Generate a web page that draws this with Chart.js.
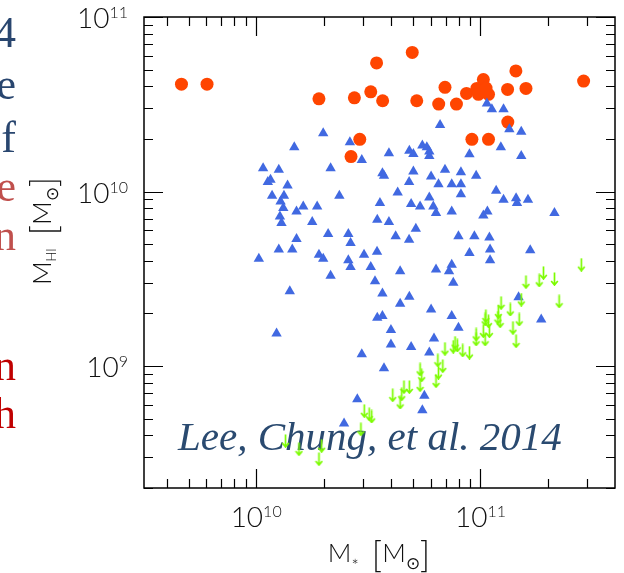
<!DOCTYPE html>
<html>
<head>
<meta charset="utf-8">
<script src="https://cdn.jsdelivr.net/npm/chart.js@4.4.1/dist/chart.umd.min.js"></script>
<style>
  html, body { margin: 0; padding: 0; background: #fff; }
  #box { width: 624px; height: 573px; }
</style>
</head>
<body>
<div id="box"><canvas id="myChart" width="624" height="573"></canvas></div>
<script>
// values are log10(M / Msun)

// gas rich galaxies (red circles)
const gasLogMstar = [9.667, 9.781, 10.280, 10.438, 10.511, 10.537, 10.564, 10.462, 10.423, 10.696,
  10.716, 10.842, 10.814, 10.893, 10.938, 10.984, 11.013, 10.991, 11.036, 11.025,
  11.121, 11.158, 11.203, 11.460, 11.122, 10.962, 11.036];
const gasLogMhi = [10.615, 10.615, 10.531, 10.537, 10.571, 10.737, 10.520, 10.299, 10.200, 10.797,
  10.520, 10.597, 10.501, 10.501, 10.562, 10.591, 10.642, 10.557, 10.557, 10.593,
  10.585, 10.691, 10.591, 10.633, 10.398, 10.299, 10.299];

// HI detections (blue triangles)
const detLogMstar = [10.299, 10.170, 10.418, 10.471, 10.031, 10.101, 10.332, 10.052, 10.064, 10.140,
  10.071, 10.124, 10.371, 10.109, 10.121, 10.210, 10.272, 10.180, 10.106, 10.113,
  10.250, 10.321, 10.411, 10.421, 10.180, 10.101, 10.161, 10.012, 10.280, 10.299,
  10.411, 10.421, 10.481, 10.511, 10.539, 10.332, 10.530, 10.150, 10.540, 10.091,
  10.471, 10.451, 10.392, 11.029, 11.051, 11.103, 10.820, 11.129, 11.182, 11.091,
  11.182, 10.741, 10.761, 10.772, 10.772, 10.683, 10.701, 10.592, 10.951, 10.563,
  10.570, 10.701, 10.842, 10.913, 10.981, 10.682, 10.780, 10.813, 10.872, 10.913,
  10.631, 10.913, 11.070, 10.772, 11.103, 11.159, 11.163, 11.212, 10.552, 10.691,
  10.731, 10.790, 10.802, 10.872, 11.031, 11.013, 11.330, 10.540, 10.592, 10.712,
  10.622, 10.682, 10.902, 10.973, 11.040, 10.951, 11.043, 11.043, 11.222, 10.642,
  10.802, 10.860, 10.872, 10.879, 10.563, 10.683, 10.642, 10.780, 11.170, 10.563,
  10.872, 11.271, 10.601, 10.902, 10.793, 10.601, 10.691, 10.772, 10.570, 10.750,
  10.741];
const detLogMhi = [10.334, 10.254, 10.282, 10.181, 10.134, 10.124, 10.134, 10.055, 10.067, 10.034,
  9.975, 9.975, 9.975, 9.943, 9.905, 9.914, 9.914, 9.886, 9.857, 9.819,
  9.825, 9.757, 9.757, 9.705, 9.728, 9.667, 9.667, 9.615, 9.638, 9.615,
  9.606, 9.568, 9.638, 9.568, 9.655, 9.518, 9.486, 9.429, 9.277, 9.187,
  9.067, 8.810, 8.671, 10.505, 10.471, 10.471, 10.381, 10.357, 10.343, 10.254,
  10.204, 10.263, 10.254, 10.229, 10.204, 10.234, 10.215, 10.219, 10.214, 10.105,
  10.091, 10.114, 10.124, 10.111, 10.091, 10.054, 10.086, 10.042, 10.042, 10.042,
  9.994, 9.985, 10.004, 9.966, 9.953, 9.962, 9.934, 9.953, 9.934, 9.928,
  9.914, 9.914, 9.877, 9.886, 9.886, 9.863, 9.877, 9.838, 9.825, 9.787,
  9.743, 9.724, 9.743, 9.743, 9.737, 9.648, 9.667, 9.606, 9.663, 9.543,
  9.553, 9.543, 9.581, 9.477, 9.415, 9.397, 9.357, 9.324, 9.394, 9.286,
  9.286, 9.267, 9.206, 9.219, 9.157, 9.124, 9.109, 9.077, 8.987, 8.829,
  8.747];

// HI upper limits (green arrows)
const limLogMstar = [11.450, 11.203, 11.262, 11.281, 11.330, 11.351, 11.182, 11.092, 11.133, 11.080,
  11.024, 11.021, 11.036, 11.078, 11.088, 11.173, 11.145, 10.981, 10.981, 11.013,
  11.021, 11.040, 11.159, 10.887, 10.897, 10.879, 10.842, 10.921, 10.951, 10.810,
  10.832, 10.813, 10.802, 10.731, 10.738, 10.731, 10.659, 10.683, 10.649, 10.609,
  10.642, 10.515, 10.482, 10.504, 10.467, 10.131, 10.191, 10.292, 10.280];
const limLogMhi = [9.581, 9.482, 9.491, 9.534, 9.499, 9.371, 9.381, 9.362, 9.324, 9.309,
  9.286, 9.267, 9.257, 9.277, 9.257, 9.267, 9.219, 9.181, 9.153, 9.200,
  9.153, 9.200, 9.143, 9.134, 9.118, 9.111, 9.099, 9.090, 9.077, 9.033,
  9.000, 8.962, 8.914, 8.981, 8.947, 8.891, 8.880, 8.880, 8.838, 8.833,
  8.791, 8.711, 8.743, 8.724, 8.638, 8.571, 8.524, 8.543, 8.467];

// axes
const xMin = 3.162e9, xMax = 3.981e11;
const yMin = 2e8, yMax = 1e11;
const xLabelExp = [10, 11];
const yLabelExp = [9, 10, 11];
const xTitle = [["M", 26, 0], ["*", 17, 10], ["  ", 24, 0], ["[", 35, 5], ["M", 26, 0], ["\u2299", 17, 7], ["]", 35, 5]];
const yTitle = [["M", 26, 0], ["HI", 13, 5], ["  ", 24, 0], ["[", 35, 5], ["M", 26, 0], ["\u2299", 17, 7], ["]", 35, 5]];
const credit = "Lee, Chung, et al. 2014";

// cut off slide text on the left
const sideLetters = [
  ["4", 47, "#29466f"], ["e", 99, "#29466f"], ["f", 152, "#29466f"],
  ["e", 201, "#c0504d"], ["n", 250, "#c0504d"],
  ["n", 380, "#c00000"], ["h", 428, "#c00000"]
];

function toPoints(lx, ly) {
  return lx.map((v, i) => ({ x: Math.pow(10, v), y: Math.pow(10, ly[i]) }));
}

function decadeTicks(min, max) {
  let out = [];
  for (let d = Math.floor(Math.log10(min)); d <= Math.ceil(Math.log10(max)); d++) {
    for (let m = 1; m <= 9; m++) {
      let v = m * Math.pow(10, d);
      if (v >= min * 0.999 && v <= max * 1.001) out.push({ v: v, major: m === 1 });
    }
  }
  return out;
}

function arrowImage() {
  const c = document.createElement("canvas");
  c.width = 9; c.height = 14;
  const g = c.getContext("2d");
  g.strokeStyle = "#7cfc00";
  g.lineWidth = 1.7;
  g.beginPath();
  g.moveTo(4.5, 0.5); g.lineTo(4.5, 13);
  g.moveTo(1.2, 9); g.lineTo(4.5, 13); g.lineTo(7.8, 9);
  g.stroke();
  return c;
}

// text made of pieces with their own size and vertical offset
function drawRuns(ctx, runs, x, y, align) {
  let w = 0;
  runs.forEach(r => { ctx.font = "300 " + r[1] + "px Lato"; w += ctx.measureText(r[0]).width; });
  let cx = align === "center" ? x - w / 2 : (align === "right" ? x - w : x);
  ctx.textAlign = "left";
  ctx.textBaseline = "alphabetic";
  runs.forEach(r => {
    ctx.font = "300 " + r[1] + "px Lato";
    ctx.fillText(r[0], cx, y + r[2]);
    cx += ctx.measureText(r[0]).width;
  });
}

const axesPlugin = {
  id: "axesPlugin",
  beforeDatasetsDraw(chart) {
    const ctx = chart.ctx;
    const a = chart.chartArea;
    const x = chart.scales.x, y = chart.scales.y;
    ctx.save();

    // slide text
    ctx.font = "44px 'Liberation Serif'";
    ctx.textAlign = "right";
    sideLetters.forEach(s => { ctx.fillStyle = s[2]; ctx.fillText(s[0], 16, s[1]); });

    ctx.font = "italic 41px 'Liberation Serif'";
    ctx.textAlign = "left";
    ctx.fillStyle = "#2a4a70";
    ctx.fillText(credit, 178, 450);

    // frame and inward ticks
    ctx.strokeStyle = "#000";
    ctx.lineWidth = 1.5;
    ctx.strokeRect(a.left, a.top, a.right - a.left, a.bottom - a.top);
    ctx.lineWidth = 1.2;
    ctx.beginPath();
    decadeTicks(xMin, xMax).forEach(t => {
      const px = Math.round(x.getPixelForValue(t.v)) + 0.5;
      const len = t.major ? 19 : 9;
      ctx.moveTo(px, a.bottom); ctx.lineTo(px, a.bottom - len);
      ctx.moveTo(px, a.top); ctx.lineTo(px, a.top + len);
    });
    decadeTicks(yMin, yMax).forEach(t => {
      const py = Math.round(y.getPixelForValue(t.v)) + 0.5;
      const len = t.major ? 19 : 9;
      ctx.moveTo(a.left, py); ctx.lineTo(a.left + len, py);
      ctx.moveTo(a.right, py); ctx.lineTo(a.right - len, py);
    });
    ctx.stroke();

    // tick labels 10^n
    ctx.fillStyle = "#111";
    xLabelExp.forEach(e => {
      drawRuns(ctx, [["10", 28, 0], [String(e), 16, -10]], x.getPixelForValue(Math.pow(10, e)), 527, "center");
    });
    yLabelExp.forEach(e => {
      drawRuns(ctx, [["10", 28, 0], [String(e), 16, -10]], 128, y.getPixelForValue(Math.pow(10, e)) + 11, "right");
    });

    // axis titles
    drawRuns(ctx, xTitle, 379, 562, "center");
    ctx.translate(51, 231);
    ctx.rotate(-Math.PI / 2);
    drawRuns(ctx, yTitle, 0, 0, "center");
    ctx.restore();
  }
};

const data = {
  datasets: [
    {
      label: "upper limits",
      data: toPoints(limLogMstar, limLogMhi),
      pointStyle: arrowImage(),
      pointRadius: 6
    },
    {
      label: "detections",
      data: toPoints(detLogMstar, detLogMhi),
      pointStyle: "triangle",
      pointRadius: 6,
      backgroundColor: "#4169e1",
      borderWidth: 0
    },
    {
      label: "gas rich",
      data: toPoints(gasLogMstar, gasLogMhi),
      pointStyle: "circle",
      pointRadius: 6.5,
      backgroundColor: "#ff4500",
      borderWidth: 0
    }
  ]
};

const config = {
  type: "scatter",
  data,
  options: {
    responsive: false,
    animation: false,
    layout: { padding: { top: 17, right: 9, left: 0, bottom: 0 } },
    plugins: { legend: { display: false }, tooltip: { enabled: false } },
    scales: {
      x: {
        type: "logarithmic", min: xMin, max: xMax,
        ticks: { display: false }, grid: { display: false }, border: { display: false },
        afterFit: s => { s.height = 85; }
      },
      y: {
        type: "logarithmic", min: yMin, max: yMax,
        ticks: { display: false }, grid: { display: false }, border: { display: false },
        afterFit: s => { s.width = 144; }
      }
    }
  },
  plugins: [axesPlugin]
};

new Chart(document.getElementById("myChart"), config);
</script>
</body>
</html>
